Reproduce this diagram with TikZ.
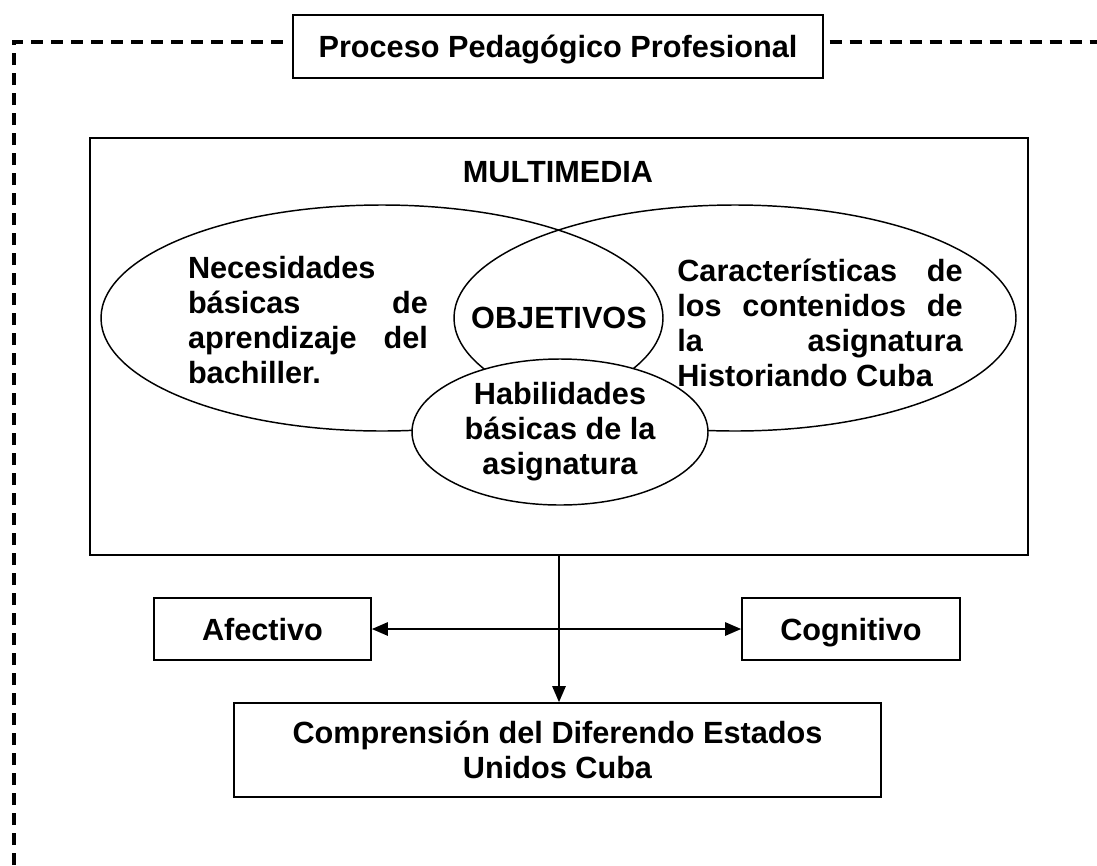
\documentclass[tikz,border=0pt]{standalone}
\usepackage{fontspec}
\setmainfont{Liberation Sans}
\usetikzlibrary{shapes.geometric,arrows.meta}

\begin{document}
\begin{tikzpicture}[x=0.75pt, y=-0.75pt, >={Triangle[length=12pt, width=10pt]},
	every node/.style = {font=\bfseries\fontsize{23}{26.25}\selectfont},
	box/.style = {draw, line width=1.3pt, fill=white, inner sep=0pt},
	linebox/.style = {box, text height=19pt, text depth=2.5pt},
	venn/.style = {draw, ellipse, line width=1.1pt, inner sep=0pt},
	texto/.style = {align=justify, inner sep=0pt, execute at begin node={\hyphenpenalty=10000 \tolerance=10000}},
	marco/.style = {line width=2.4pt, dash pattern=on 9pt off 6pt},
	linea/.style = {line width=1.3pt}]
	\useasboundingbox (0,0) rectangle (1097,865);
	% marco punteado
	\node[linebox, minimum width=397.5pt, minimum height=47.25pt, outer sep=5pt] (proceso) at (558,46.5) {Proceso Pedagógico Profesional};
	\draw[marco] (14,865) -- (14,42) -- (proceso.west |- 0,42);
	\draw[marco] (proceso.east |- 0,42) -- (1097,42);
	% multimedia
	\node[box, minimum width=703.5pt, minimum height=312.75pt] (multimedia) at (559,346.5) {};
	\node (mmtitulo) at (558,172) {MULTIMEDIA};
	\node[venn, minimum width=421.5pt, minimum height=169.5pt] (necesidades) at (382,318) {};
	\node[venn, minimum width=421.5pt, minimum height=169.5pt] (caracteristicas) at (735,318) {};
	\node[texto, text width=180pt] (txtnec) at (308,320) {Necesidades\linebreak básicas de\linebreak aprendizaje del\linebreak bachiller.};
	\node[texto, text width=214pt] (txtcar) at (820,323) {Características de\linebreak los contenidos de\linebreak la asignatura\linebreak Historiando Cuba};
	\node (objetivos) at (559,318) {OBJETIVOS};
	\node[venn, fill=white, align=center, minimum width=222pt, minimum height=109.5pt] (habilidades) at (560,432) {Habilidades\\básicas de la\\asignatura};
	% dimensiones
	\node[linebox, minimum width=162.75pt, minimum height=46.5pt] (afectivo) at (262.5,629) {Afectivo};
	\node[linebox, minimum width=163.5pt, minimum height=46.5pt] (cognitivo) at (851,629) {Cognitivo};
	\node[box, align=center, minimum width=485.25pt, minimum height=70.5pt] (comprension) at (557.5,750) {Comprensión del Diferendo Estados\\Unidos Cuba};
	\draw[linea, <->] (afectivo.east) -- (cognitivo.west);
	\draw[linea, ->] (multimedia.south) -- (multimedia.south |- comprension.north);
\end{tikzpicture}
\end{document}
